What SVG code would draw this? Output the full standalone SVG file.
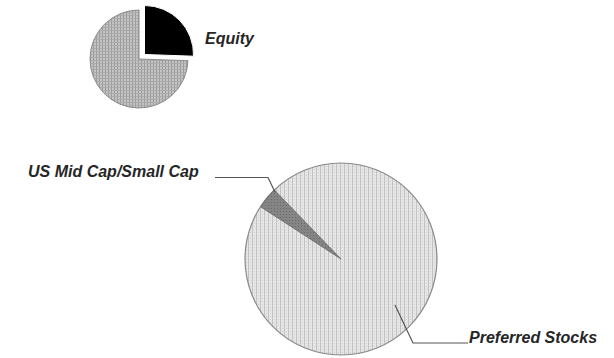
<svg xmlns="http://www.w3.org/2000/svg" width="614" height="358" viewBox="0 0 614 358">
  <style>
    .lbl { font-family: "Liberation Sans", Arial, sans-serif; font-size: 16px; font-weight: bold; font-style: italic; fill: #262626; }
    .leader { fill: none; stroke: #555; stroke-width: 1.2; }
  </style>
  <defs>
    <pattern id="pBig" width="4" height="3" patternUnits="userSpaceOnUse">
      <rect width="4" height="3" fill="#e6e6e6"/>
      <rect x="0" y="0" width="1" height="3" fill="#c2c2c2"/>
      <rect x="2" y="1" width="1" height="1" fill="#cfcfcf"/>
    </pattern>
    <pattern id="pSmall" width="3" height="3" patternUnits="userSpaceOnUse">
      <rect width="3" height="3" fill="#c4c4c4"/>
      <rect x="0" y="0" width="1" height="3" fill="#9a9a9a"/>
      <rect x="0" y="0" width="3" height="1" fill="#ababab"/>
    </pattern>
    <pattern id="pWedge" width="3" height="3" patternUnits="userSpaceOnUse">
      <rect width="3" height="3" fill="#858585"/>
      <rect x="1" y="1" width="1" height="1" fill="#6a6a6a"/>
    </pattern>
  </defs>

  <g id="equity-pie">
    <path d="M139,59 L187.97,60.7 A49,49 0 1,1 139,10 Z" fill="url(#pSmall)" stroke="#8a8a8a" stroke-width="1"/>
    <path d="M144.5,54.5 L144.5,5.5 A49,49 0 0,1 193.5,56.2 Z" fill="#000" stroke="#fff" stroke-width="1"/>
  </g>
  <g id="equity-label">
    <text class="lbl" x="205" y="44">Equity</text>
  </g>

  <g id="main-pie">
    <circle cx="341" cy="259" r="96" fill="url(#pBig)" stroke="#8a8a8a" stroke-width="1.2"/>
    <path d="M341,259 L260.5,206.7 A96,96 0 0,1 274.3,189.9 Z" fill="url(#pWedge)" stroke="#666" stroke-width="0.8"/>
  </g>

  <g id="connectors">
    <polyline class="leader" points="215,177.5 268,177.5 275,192"/>
    <polyline class="leader" points="395,305 413,343 468,343"/>
  </g>

  <g id="label-midcap">
    <text class="lbl" x="28" y="177">US Mid Cap/Small Cap</text>
  </g>
  <g id="label-preferred">
    <text class="lbl" x="469" y="343">Preferred Stocks</text>
  </g>
</svg>
